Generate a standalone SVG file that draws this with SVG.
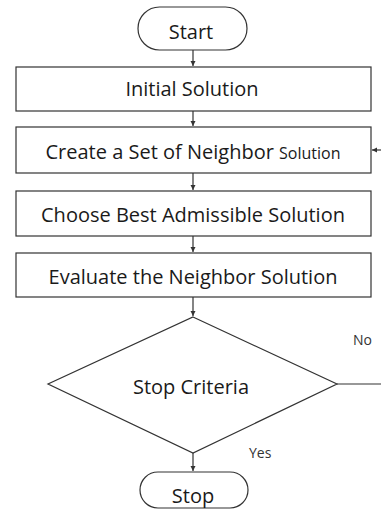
<svg xmlns="http://www.w3.org/2000/svg" width="381" height="519" viewBox="0 0 381 519">
<defs>
<marker id="ah" markerWidth="6" markerHeight="6" refX="5" refY="3" orient="auto" markerUnits="userSpaceOnUse">
<path d="M0,0.5 L5,3 L0,5.5 Z" fill="#333"/>
</marker>
</defs>
<style>
.shape{fill:#fff;stroke:#333;stroke-width:1.2}
.t{font-family:"Open Sans","Noto Sans",sans-serif;font-size:20px;fill:#1a1a1a;text-anchor:middle}
.lbl{font-family:"Open Sans","Noto Sans",sans-serif;font-size:14px;fill:#333}
.c{fill:none;stroke:#333;stroke-width:1.2}
</style>
<rect width="381" height="519" fill="#fff"/>
<g id="start"><rect class="shape" x="138" y="7" width="109" height="43" rx="21.5"/><text class="t" x="191" y="39">Start</text></g>
<g id="initial"><rect class="shape" x="16" y="67" width="355" height="44"/><text class="t" x="192" y="96">Initial Solution</text></g>
<g id="create"><rect class="shape" x="16" y="127" width="355" height="46"/><text class="t" x="193" y="158.5">Create a Set of Neighbor <tspan font-size="16">Solution</tspan></text></g>
<g id="choose"><rect class="shape" x="16" y="191" width="355" height="45"/><text class="t" x="193" y="222">Choose Best Admissible Solution</text></g>
<g id="evaluate"><rect class="shape" x="16" y="253" width="355" height="44"/><text class="t" x="193" y="284">Evaluate the Neighbor Solution</text></g>
<g id="criteria"><polygon class="shape" points="193,317 337,384 193,453 48,384"/><text class="t" x="191" y="394">Stop Criteria</text></g>
<g id="stop"><rect class="shape" x="140" y="472" width="108" height="36" rx="18"/><text class="t" x="193" y="503">Stop</text></g>
<g id="connectors">
<line class="c" x1="193" y1="50" x2="193" y2="66" marker-end="url(#ah)"/>
<line class="c" x1="193" y1="111" x2="193" y2="126" marker-end="url(#ah)"/>
<line class="c" x1="193" y1="173" x2="193" y2="190" marker-end="url(#ah)"/>
<line class="c" x1="193" y1="236" x2="193" y2="252" marker-end="url(#ah)"/>
<line class="c" x1="193" y1="297" x2="193" y2="316" marker-end="url(#ah)"/>
<line class="c" x1="193" y1="453" x2="193" y2="471" marker-end="url(#ah)"/>
<line class="c" x1="337" y1="384" x2="381" y2="384"/>
<line class="c" x1="381" y1="150" x2="372" y2="150" marker-end="url(#ah)"/>
<text class="lbl" x="353" y="345">No</text>
<text class="lbl" x="249" y="458">Yes</text>
</g>
</svg>
